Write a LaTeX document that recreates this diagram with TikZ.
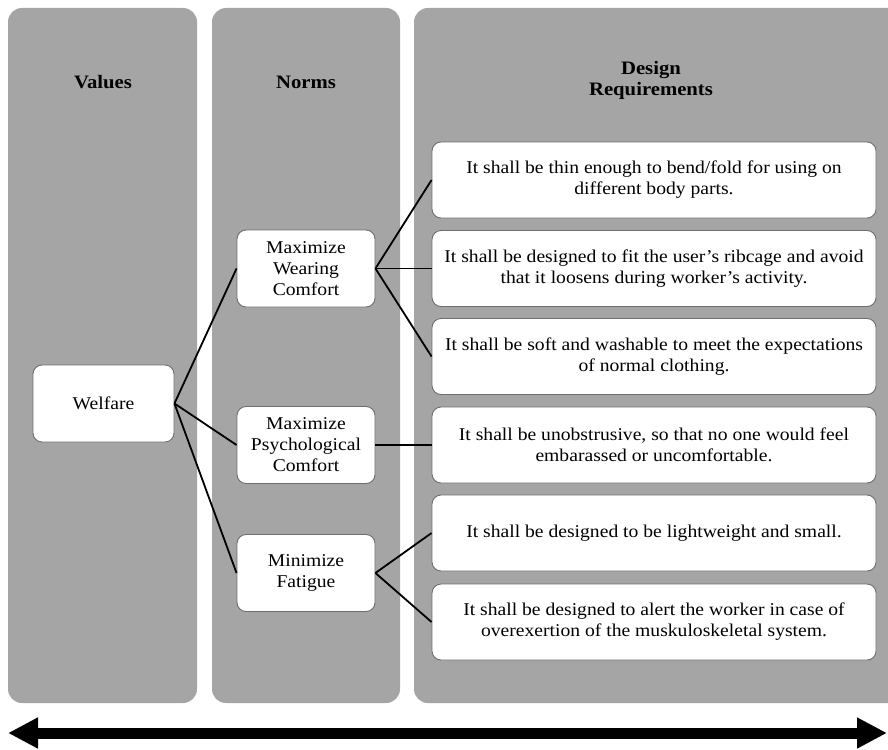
\documentclass[tikz,border=0pt]{standalone}
\usepackage{fontspec}
\setmainfont{Liberation Serif}[FakeStretch=1.09]
\usetikzlibrary{arrows.meta}
\definecolor{panelgray}{HTML}{A5A5A5}
\definecolor{boxedge}{HTML}{6E6E6E}
\tikzset{
  panel/.style={fill=panelgray, draw=none, rounded corners=14pt},
  hdr/.style={font=\fontsize{19}{21}\selectfont\bfseries, align=center, inner sep=0pt},
  whitebox/.style={draw=boxedge, line width=0.9pt, fill=white, rounded corners=9pt,
     align=center, inner sep=2pt, font=\fontsize{18}{21}\selectfont},
  valbox/.style={whitebox, minimum width=141pt, minimum height=77pt},
  normbox/.style={whitebox, minimum width=138pt, minimum height=77pt},
  reqbox/.style={whitebox, minimum width=444pt, minimum height=76pt},
  link/.style={draw=black, line width=1.8pt},
  bigarrow/.style={line width=11pt, {Triangle[length=30pt,width=29pt]}-{Triangle[length=30pt,width=29pt]}}
}
\begin{document}
\begin{tikzpicture}[x=1pt,y=-1pt]
\useasboundingbox (0,0) rectangle (888,749);
\begin{scope}
\clip (0,0) rectangle (888,749);
\fill[white] (0,0) rectangle (888,749);
\path[panel] (8,8) rectangle (197,703);
\path[panel] (212,8) rectangle (400,703);
\path[panel] (414,8) rectangle (910,703);
\end{scope}

\node[hdr] (hv) at (103,82) {Values};
\node[hdr] (hn) at (306,82) {Norms};
\node[hdr] (hd) at (651,80) {Design\\Requirements};

\node[valbox] (welfare) at (103.5,403.5) {Welfare};

\node[normbox] (n1) at (306,268.5) {Maximize\\Wearing\\Comfort};
\node[normbox] (n2) at (306,445) {Maximize\\Psychological\\Comfort};
\node[normbox] (n3) at (306,573) {Minimize\\Fatigue};

\node[reqbox] (r1) at (654,180) {It shall be thin enough to bend/fold for using on\\different body parts.};
\node[reqbox] (r2) at (654,268.5) {It shall be designed to fit the user’s ribcage and avoid\\that it loosens during worker’s activity.};
\node[reqbox] (r3) at (654,356.5) {It shall be soft and washable to meet the expectations\\of normal clothing.};
\node[reqbox] (r4) at (654,445) {It shall be unobstrusive, so that no one would feel\\embarassed or uncomfortable.};
\node[reqbox] (r5) at (654,533) {It shall be designed to be lightweight and small.};
\node[reqbox] (r6) at (654,622) {It shall be designed to alert the worker in case of\\overexertion of the muskuloskeletal system.};

\draw[link] (welfare.east) -- (n1.west);
\draw[link] (welfare.east) -- (n2.west);
\draw[link] (welfare.east) -- (n3.west);
\draw[link] (n1.east) -- (r1.west);
\draw[link] (n1.east) -- (r2.west);
\draw[link] (n1.east) -- (r3.west);
\draw[link] (n2.east) -- (r4.west);
\draw[link] (n3.east) -- (r5.west);
\draw[link] (n3.east) -- (r6.west);

\coordinate (aL) at (8,733);
\coordinate (aR) at (887,733);
\draw[bigarrow] (aL) -- (aR);
\end{tikzpicture}
\end{document}
